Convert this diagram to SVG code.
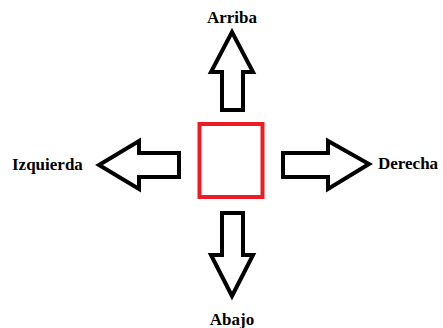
<svg xmlns="http://www.w3.org/2000/svg" width="443" height="328" viewBox="0 0 443 328">
<style>
.arrow{fill:#fff;stroke:#000;stroke-width:4;stroke-linejoin:miter}
.lbl{font-family:"Liberation Serif","Times New Roman",serif;font-weight:bold;font-size:17px;fill:#000}
</style>
<rect width="443" height="328" fill="#fff"/>
<g id="center">
<rect x="199.5" y="124" width="63" height="73" fill="#fff" stroke="#ed1c24" stroke-width="4"/>
</g>
<g id="connectors">
<polygon id="arrow-up" class="arrow" points="222,110 222,72 211,72 232,32 253,72 243,72 243,110"/>
<polygon id="arrow-left" class="arrow" points="179,153 139,153 139,141 99,165 139,189 139,177 179,177"/>
<polygon id="arrow-right" class="arrow" points="283,153 328,153 328,141 369,164 328,189 328,177 283,177"/>
<polygon id="arrow-down" class="arrow" points="222,213 243,213 243,255 253,255 232,296 211,255 222,255"/>
</g>
<g id="arriba"><text class="lbl" x="232" y="23" text-anchor="middle">Arriba</text></g>
<g id="izquierda"><text class="lbl" x="12" y="170">Izquierda</text></g>
<g id="derecha"><text class="lbl" x="378" y="169">Derecha</text></g>
<g id="abajo"><text class="lbl" x="232" y="325" text-anchor="middle">Abajo</text></g>
</svg>
